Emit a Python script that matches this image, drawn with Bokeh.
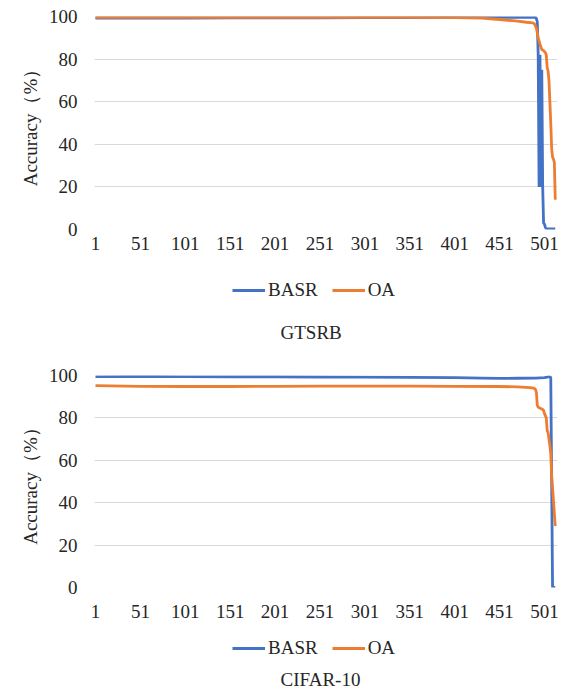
from bokeh.plotting import figure
from bokeh.models import Range1d, FixedTicker, Legend, LegendItem, Label
from bokeh.layouts import column
from bokeh.embed import file_html
from bokeh.resources import INLINE

x_ticks = [1, 51, 101, 151, 201, 251, 301, 351, 401, 451, 501]
y_ticks = [0, 20, 40, 60, 80, 100]
series_names = ["BASR", "OA"]
series_colors = ["#4472C4", "#ED7D31"]

# GTSRB
gtsrb_basr_x = [1, 51, 101, 151, 201, 251, 301, 351, 401, 451, 481, 491, 492, 493, 494, 495,
                496, 497, 498, 499, 500, 501, 502, 503, 513]
gtsrb_basr_y = [99.3, 99.3, 99.3, 99.4, 99.4, 99.4, 99.5, 99.5, 99.6, 99.6, 99.6, 99.6, 99.0, 97.5,
                82.0, 20.0, 82.0, 20.0, 75.0, 20.0, 3.0, 2.5, 1.0, 0.3, 0.3]
gtsrb_oa_x = [1, 51, 101, 151, 201, 251, 301, 351, 401, 431, 451, 471, 481, 488, 490, 492, 494,
              496, 498, 500, 502, 503, 504, 505, 506, 507, 508, 509, 510, 511, 512, 513]
gtsrb_oa_y = [99.6, 99.6, 99.6, 99.6, 99.6, 99.6, 99.6, 99.6, 99.5, 99.2, 98.6, 97.8, 97.3, 97.0,
              96.5, 94.5, 90.0, 87.0, 84.5, 84.0, 83.0, 82.0, 76.0, 74.5, 70.0, 60.0, 50.0, 38.0,
              34.0, 33.0, 31.5, 14.0]

# CIFAR-10
cifar_basr_x = [1, 51, 101, 151, 201, 251, 301, 351, 401, 431, 451, 471, 491, 501, 507, 508,
                509, 510, 513]
cifar_basr_y = [99.5, 99.6, 99.5, 99.4, 99.4, 99.3, 99.2, 99.1, 99.0, 98.8, 98.6, 98.7, 98.8,
                99.0, 99.5, 99.0, 50.0, 0.0, 0.0]
cifar_oa_x = [1, 51, 101, 151, 201, 251, 301, 351, 401, 451, 471, 485, 489, 491, 492, 493, 494,
              499, 500, 501, 503, 504, 505, 507, 508, 509, 510, 511, 512, 513]
cifar_oa_y = [95.2, 94.9, 94.8, 94.8, 94.9, 95.0, 95.0, 95.0, 94.9, 94.8, 94.6, 94.3, 94.0, 93.5,
              92.0, 86.0, 85.0, 84.0, 83.5, 82.0, 80.0, 74.0, 73.0, 67.0, 63.0, 53.0, 47.0, 41.0,
              35.0, 29.0]

FONT = "Liberation Serif"
TXT = "#262626"
W = 561
LW = 2.8


def make_chart(bx, by, ox, oy, height, top_border, bottom_border, x_standoff):
    p = figure(width=W, height=height, output_backend="svg", toolbar_location=None,
               x_range=Range1d(-0.1, 515.5), y_range=Range1d(0, 100),
               min_border_left=94, min_border_right=4, min_border_top=top_border,
               min_border_bottom=bottom_border)
    p.outline_line_color = None
    p.background_fill_color = "white"
    p.border_fill_color = "white"
    p.xgrid.visible = False
    p.ygrid.grid_line_color = "#D9D9D9"
    p.ygrid.grid_line_width = 1
    p.xaxis.ticker = FixedTicker(ticks=x_ticks)
    p.yaxis.ticker = FixedTicker(ticks=y_ticks)
    for ax in (p.xaxis, p.yaxis):
        ax.axis_line_color = None
        ax.major_tick_line_color = None
        ax.minor_tick_line_color = None
        ax.major_tick_out = 0
        ax.major_tick_in = 0
        ax.minor_tick_out = 0
        ax.major_label_text_font = FONT
        ax.major_label_text_font_size = "19px"
        ax.major_label_text_color = TXT
    p.xaxis.major_label_standoff = x_standoff
    p.yaxis.major_label_standoff = 17
    p.yaxis.axis_label = "Accuracy（%）"
    p.yaxis.axis_label_text_font = FONT
    p.yaxis.axis_label_text_font_size = "19px"
    p.yaxis.axis_label_text_font_style = "normal"
    p.yaxis.axis_label_text_color = TXT
    p.yaxis.axis_label_standoff = 5

    p.line(bx, by, line_color=series_colors[0], line_width=LW)
    p.line(ox, oy, line_color=series_colors[1], line_width=LW)
    return p


def make_legend(name, height, leg_y, title_y):
    # legend strip under a chart; its frame is aligned with the chart's frame (left at 94px)
    q = figure(width=W, height=height, output_backend="svg", toolbar_location=None,
               x_range=Range1d(0, 1), y_range=Range1d(0, 1),
               x_axis_location=None, y_axis_location=None,
               min_border_left=94, min_border_right=4, min_border_top=0, min_border_bottom=0)
    q.outline_line_color = None
    q.grid.visible = False
    q.border_fill_color = "white"
    q.background_fill_color = "white"
    items = []
    for nm, col in zip(series_names, series_colors):
        # stand-in renderer (kept outside the visible range) that only supplies the legend swatch
        r = q.line(x=[0, 1], y=[-5, -5], line_color=col, line_width=LW)
        items.append(LegendItem(label=nm, renderers=[r]))
    legend = Legend(items=items, orientation="horizontal", location=(138, leg_y),
                    glyph_width=33, glyph_height=20, label_standoff=3, spacing=14,
                    padding=0, margin=0,
                    border_line_color=None, background_fill_alpha=0,
                    label_text_font=FONT, label_text_font_size="19px",
                    label_text_color=TXT)
    q.add_layout(legend, "center")
    t = Label(text=name, x=186, y=title_y, x_units="screen", y_units="screen",
              text_align="left", text_baseline="middle",
              text_font=FONT, text_font_size="19px", text_color=TXT)
    q.add_layout(t)
    return q


top = make_chart(gtsrb_basr_x, gtsrb_basr_y, gtsrb_oa_x, gtsrb_oa_y, 262, 16, 33, 7)
top_leg = make_legend("GTSRB", 84, 45, 14)
bottom = make_chart(cifar_basr_x, cifar_basr_y, cifar_oa_x, cifar_oa_y, 278, 29, 37, 17)
bottom_leg = make_legend("CIFAR-10", 67, 32, 12)

layout = column(top, top_leg, bottom, bottom_leg, spacing=0)
open("out.html", "w").write(file_html(layout, INLINE))
